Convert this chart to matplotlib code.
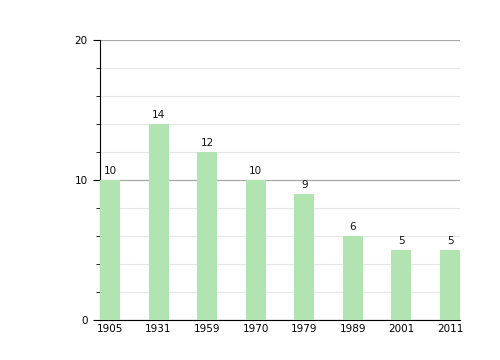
import numpy as np
import matplotlib.pyplot as plt
from matplotlib.ticker import MultipleLocator

years = ['1905', '1931', '1959', '1970', '1979', '1989', '2001', '2011']
values = [10, 14, 12, 10, 9, 6, 5, 5]

fig = plt.figure(figsize=(5, 3.6), dpi=100)
ax = fig.add_axes([0.2, 40 / 360, 0.72, 280 / 360])

x = np.arange(len(years))
w = 0.41
ax.bar(x, values, width=w, color='#b2e4b2', zorder=3)
for xi, v in zip(x, values):
    ax.text(xi, v + 0.25, str(v), ha='center', va='bottom', fontsize=7.5, color='#111111')

ax.set_xlim(-w / 2, len(years) - 1 + w / 2)
ax.set_ylim(0, 20)
ax.set_xticks(x)
ax.set_xticklabels(years, fontsize=7.5)
ax.yaxis.set_major_locator(MultipleLocator(10))
ax.yaxis.set_minor_locator(MultipleLocator(2))
ax.tick_params(axis='y', which='major', length=5, labelsize=7.5, pad=4)
ax.tick_params(axis='y', which='minor', length=3)
ax.tick_params(axis='x', length=0, pad=3)

ax.grid(axis='y', which='major', color='#a8a8a8', lw=0.9, zorder=1)
ax.grid(axis='y', which='minor', color='#e6e6e6', lw=0.8, zorder=0)
ax.spines['top'].set_visible(False)
ax.spines['right'].set_visible(False)

fig.savefig('out.png', dpi=100)
